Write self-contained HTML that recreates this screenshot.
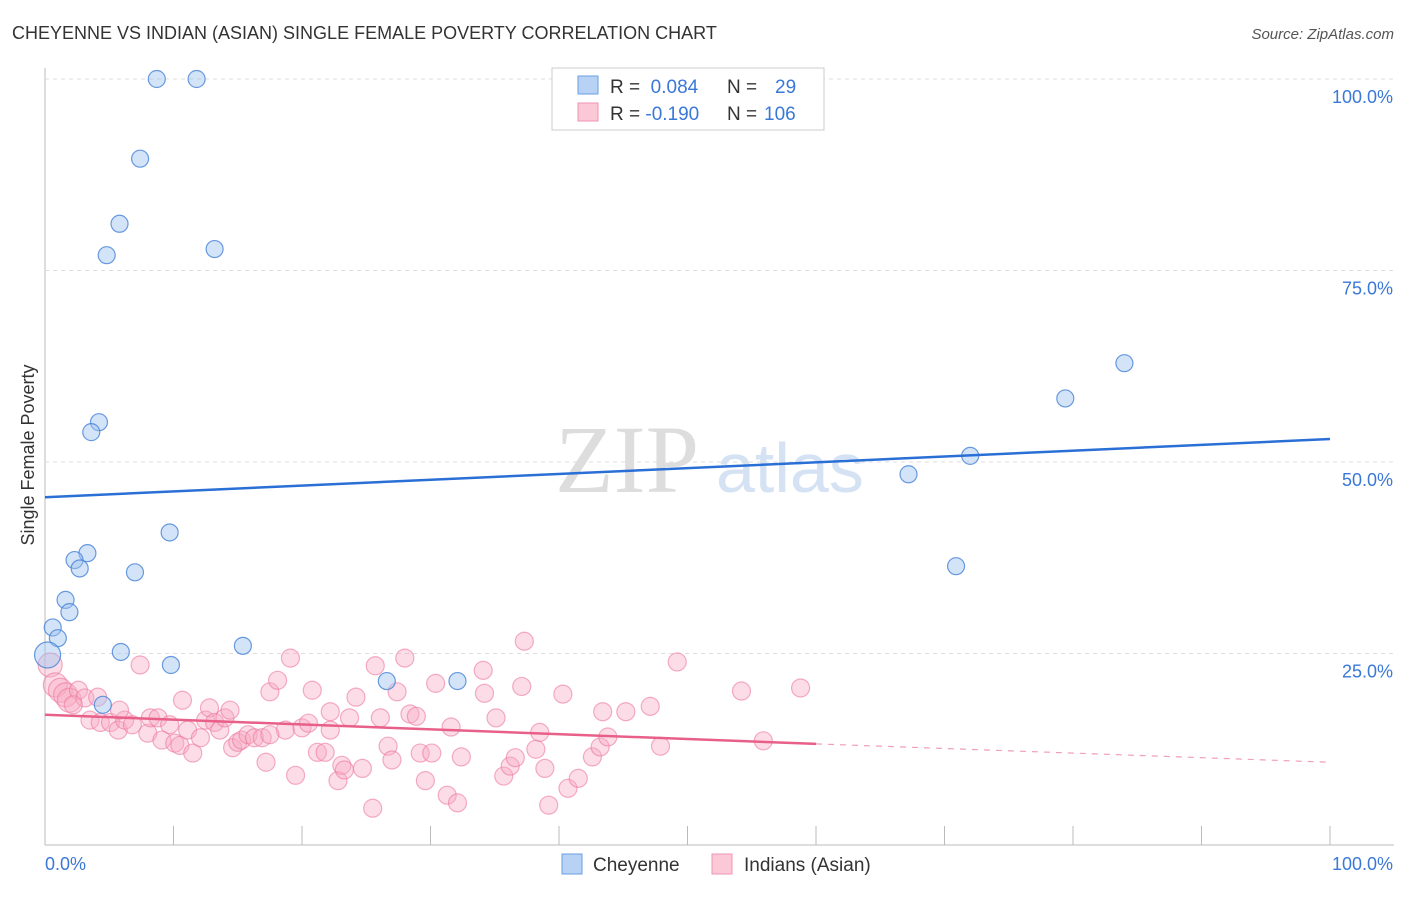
<!DOCTYPE html>
<html><head><meta charset="utf-8"><style>
body{margin:0;background:#fff;font-family:"Liberation Sans",sans-serif}
#wrap{position:relative;width:1406px;height:892px}
</style></head><body><div id="wrap">
<svg id="svg" width="1406" height="892">
<text x="12" y="39" font-size="18" fill="#333">CHEYENNE VS INDIAN (ASIAN) SINGLE FEMALE POVERTY CORRELATION CHART</text>
<text x="1394" y="39" font-size="15" fill="#555" font-style="italic" text-anchor="end">Source: ZipAtlas.com</text>
<text x="34" y="455" font-size="18" fill="#333" transform="rotate(-90 34 455)" text-anchor="middle">Single Female Poverty</text>
<text x="555" y="492" font-size="96" fill="#ddd" font-family="Liberation Serif">ZIP</text>
<text x="716" y="492" font-size="70" fill="#d4e2f4">atlas</text>
<g id="grid"></g><g id="pts"></g><g id="lines"></g>
<g>
<rect x="552" y="68" width="272" height="62" fill="#fff" stroke="#ccc"/>
<rect x="578" y="76" width="20" height="18" fill="#b8d2f5" stroke="#6a9ee0"/>
<rect x="578" y="103" width="20" height="18" fill="#fbc8d8" stroke="#f093b0"/>
<text x="610" y="93" font-size="19" fill="#333">R = <tspan fill="#3a78d8">&#160;0.084</tspan><tspan x="727">N = </tspan><tspan x="775" fill="#3a78d8">29</tspan></text>
<text x="610" y="120" font-size="19" fill="#333">R = <tspan fill="#3a78d8">-0.190</tspan><tspan x="727">N = </tspan><tspan x="764" fill="#3a78d8">106</tspan></text>
</g>
<g>
<rect x="562" y="854" width="20" height="20" fill="#b8d2f5" stroke="#6a9ee0"/>
<text x="593" y="871" font-size="19" fill="#333">Cheyenne</text>
<rect x="712" y="854" width="20" height="20" fill="#fbc8d8" stroke="#f093b0"/>
<text x="744" y="871" font-size="19" fill="#333">Indians (Asian)</text>
</g>
</svg></div>
<script>
const yTicks=[25,50,75,100];
const blueX=[8.7,11.8,7.4,5.8,4.8,13.2,4.2,3.6,9.7,3.3,2.3,2.7,7.0,1.6,1.9,0.6,1.0,5.9,9.8,15.4,0.2,4.5,26.6,32.1,67.2,72.0,79.4,84.0,70.9];
const blueY=[100,100,89.6,81.1,77.0,77.8,55.2,53.9,40.8,38.1,37.2,36.1,35.6,32.0,30.4,28.4,27.0,25.2,23.5,26.0,24.8,18.3,21.4,21.4,48.4,50.8,58.3,62.9,36.4];
const pinkX=[0.4,0.8,1.2,1.6,1.9,2.6,3.1,4.1,2.2,3.5,4.3,5.1,5.7,6.2,6.8,7.4,8.0,8.2,8.8,9.1,9.7,10.1,10.5,10.7,11.1,11.5,12.1,12.5,12.8,13.2,13.6,14.0,14.6,15.0,15.3,15.8,16.3,16.9,17.2,17.5,18.1,18.7,19.1,19.5,20.0,20.5,20.8,21.2,21.8,22.2,22.8,23.1,23.3,23.7,24.2,24.7,25.5,25.7,26.1,26.7,27.0,27.4,28.0,28.4,28.9,29.2,29.6,30.1,30.4,31.3,31.6,32.1,32.4,34.1,34.2,35.1,35.7,36.2,36.6,37.1,37.3,38.2,38.5,38.9,39.2,40.3,40.7,41.5,42.6,43.2,43.4,43.8,45.2,47.1,47.9,49.2,54.2,55.9,58.8,5.8,14.4,22.2,17.5];
const pinkY=[23.5,20.9,20.2,19.6,18.9,20.2,19.2,19.3,18.3,16.3,16.0,16.0,15.0,16.3,15.7,23.5,14.6,16.6,16.6,13.7,15.7,13.3,13.0,18.9,15.0,12.0,14.0,16.3,17.9,16.0,15.0,16.6,12.7,13.4,13.7,14.4,14.0,14.0,10.8,20.0,21.5,15.0,24.4,9.1,15.3,15.9,20.2,12.1,12.1,17.4,8.4,10.4,9.8,16.6,19.3,10.0,4.8,23.4,16.6,12.9,11.1,20.0,24.4,17.1,16.8,12.0,8.4,12.0,21.1,6.5,15.4,5.5,11.5,22.8,19.8,16.6,9.0,10.3,11.4,20.7,26.6,12.5,14.7,10.0,5.2,19.7,7.4,8.7,11.5,12.8,17.4,14.1,17.4,18.1,12.9,23.9,20.1,13.6,20.5,17.6,17.6,15.0,14.4];
const blueTrend=[45.4,53.0];
const pinkTrend=[17.0,13.2,10.8];
const X0=45,X1=1330,Y0=845,Y1=79;
const sx=v=>X0+(X1-X0)*v/100, sy=v=>Y0-(Y0-Y1)*v/100;
const NS="http://www.w3.org/2000/svg";
function mk(t,a,p){const e=document.createElementNS(NS,t);for(const k in a)e.setAttribute(k,a[k]);p.appendChild(e);return e;}
const G=document.getElementById('grid');
mk('line',{x1:X0,y1:68,x2:X0,y2:Y0,stroke:'#bbb'},G);
mk('line',{x1:X0,y1:Y0,x2:1394,y2:Y0,stroke:'#bbb'},G);
for(let i=0;i<=10;i++){const l=mk('line',{x1:sx(i*10),y1:Y0,x2:sx(i*10),y2:826,stroke:'#bbb'},G);}
yTicks.forEach(v=>{
 const l=mk('line',{x1:X0,y1:sy(v),x2:1394,y2:sy(v),stroke:'#ddd','stroke-dasharray':'4,4'},G);
 
 
 const t=mk('text',{x:1393,y:sy(v)+24,'font-size':18,fill:'#3a78d8','text-anchor':'end'},G);t.textContent=v.toFixed(1)+'%';
 
 
});
let t=mk('text',{x:45,y:870,'font-size':18,fill:'#3a78d8'},G);t.textContent='0.0%';


t=mk('text',{x:1393,y:870,'font-size':18,fill:'#3a78d8','text-anchor':'end'},G);t.textContent='100.0%';


const P=document.getElementById('pts');
pinkX.forEach((x,i)=>{const c=mk('circle',{cx:sx(x),cy:sy(pinkY[i]),r:i<5?12:9,fill:'rgba(248,170,195,0.4)',stroke:'rgba(236,120,160,0.6)','stroke-width':1.2},P);
 
 });
blueX.forEach((x,i)=>{const c=mk('circle',{cx:sx(x),cy:sy(blueY[i]),r:i==20?13:8.5,fill:'rgba(160,195,240,0.45)',stroke:'rgba(70,130,215,0.8)','stroke-width':1.2},P);
 
 });
const L=document.getElementById('lines');
let l=mk('line',{x1:sx(0),y1:sy(blueTrend[0]),x2:sx(100),y2:sy(blueTrend[1]),stroke:'#2a6fd6','stroke-width':2.5},L);


l=mk('line',{x1:sx(0),y1:sy(pinkTrend[0]),x2:sx(60),y2:sy(pinkTrend[1]),stroke:'#e8608a','stroke-width':2.5},L);


l=mk('line',{x1:sx(60),y1:sy(pinkTrend[1]),x2:sx(100),y2:sy(pinkTrend[2]),stroke:'#e8608a','stroke-width':1.2,'stroke-dasharray':'6,6',opacity:0.6},L);


</script></body></html>
